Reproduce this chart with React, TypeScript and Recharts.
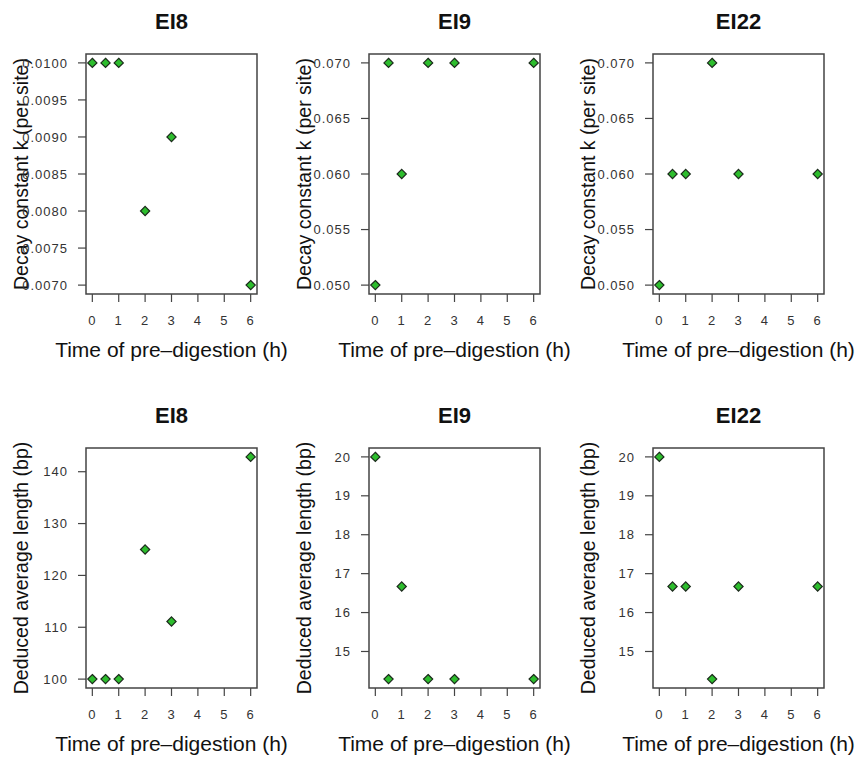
import React from 'react';
import { ScatterChart, Scatter, XAxis, YAxis, ReferenceArea } from 'recharts';

// ---- data ----
const timeHours = [0, 0.5, 1, 2, 3, 6];
const xTicks = [0, 1, 2, 3, 4, 5, 6];

const panelTitles = ['EI8', 'EI9', 'EI22'];

const decayEI8 = [0.01, 0.01, 0.01, 0.008, 0.009, 0.007];
const decayEI9 = [0.05, 0.07, 0.06, 0.07, 0.07, 0.07];
const decayEI22 = [0.05, 0.06, 0.06, 0.07, 0.06, 0.06];

const lengthEI8 = [100, 100, 100, 125, 111.11, 142.86];
const lengthEI9 = [20, 14.29, 16.67, 14.29, 14.29, 14.29];
const lengthEI22 = [20, 16.67, 16.67, 14.29, 16.67, 16.67];

const decayTicksEI8 = [0.007, 0.0075, 0.008, 0.0085, 0.009, 0.0095, 0.01];
const decayTicksOther = [0.05, 0.055, 0.06, 0.065, 0.07];
const lengthTicksEI8 = [100, 110, 120, 130, 140];
const lengthTicksOther = [15, 16, 17, 18, 19, 20];

const xLabelText = 'Time of pre\u2013digestion (h)';
const decayLabelText = 'Decay constant k (per site)';
const lengthLabelText = 'Deduced average length (bp)';

// ---- styling ----
const FONT = '"Liberation Sans", Arial, Helvetica, sans-serif';
const AXIS_COLOR = '#444';
const TICK_COLOR = '#333';
const POINT_FILL = '#2dbd2d';
const POINT_STROKE = '#1b2a1b';

function rDomain(vals: number[]): [number, number] {
  const min = Math.min(...vals);
  const max = Math.max(...vals);
  const pad = (max - min) * 0.04;
  return [min - pad, max + pad];
}

const Diamond = (props: any) => {
  const { cx, cy } = props;
  if (cx == null || cy == null) return null;
  const r = 4.6;
  return (
    <polygon
      points={`${cx},${cy - r} ${cx + r},${cy} ${cx},${cy + r} ${cx - r},${cy}`}
      fill={POINT_FILL}
      stroke={POINT_STROKE}
      strokeWidth={1.2}
    />
  );
};

const makeXLabel = (text: string) => (props: any) => {
  const vb = props.viewBox || {};
  const cx = vb.x + vb.width / 2;
  const y = vb.y + 63;
  return (
    <text x={cx} y={y} textAnchor="middle" fontSize={21} fontFamily={FONT} fill="#111">
      {text}
    </text>
  );
};

const makeYLabel = (text: string) => (props: any) => {
  const vb = props.viewBox || {};
  const cx = vb.x + vb.width - 65;
  const cy = vb.y + vb.height / 2;
  return (
    <text
      x={cx}
      y={cy}
      transform={`rotate(-90, ${cx}, ${cy})`}
      textAnchor="middle"
      dominantBaseline="central"
      fontSize={19.5}
      fontFamily={FONT}
      fill="#111"
    >
      {text}
    </text>
  );
};

type PanelProps = {
  left: number;
  top: number;
  height: number;
  title: string;
  ys: number[];
  yTicks: number[];
  fmt: (v: number) => string;
  yLabel: string;
};

const CHART_W = 289;
const M_TOP = 54;
const M_RIGHT = 32;
const Y_AXIS_W = 86;
const X_AXIS_H = 70;
const BOX_H = 240;

function Panel({ left, top, height, title, ys, yTicks, fmt, yLabel }: PanelProps) {
  const data = timeHours.map((t, i) => ({ t, v: ys[i] }));
  const xDom = rDomain(timeHours);
  const yDom = rDomain(ys);
  const boxCenter = Y_AXIS_W + (CHART_W - Y_AXIS_W - M_RIGHT) / 2;
  const tickStyle = { fill: TICK_COLOR, fontSize: 13, fontFamily: FONT, letterSpacing: 1 };
  return (
    <div style={{ position: 'absolute', left, top, width: CHART_W, height }}>
      <svg
        width={CHART_W}
        height={50}
        style={{ position: 'absolute', left: 0, top: 0, pointerEvents: 'none' }}
      >
        <text x={boxCenter} y={29} textAnchor="middle" fontSize={22} fontWeight="bold" fontFamily={FONT} fill="#111">
          {title}
        </text>
      </svg>
      <ScatterChart
        width={CHART_W}
        height={height}
        margin={{ top: M_TOP, right: M_RIGHT, bottom: height - M_TOP - BOX_H - X_AXIS_H, left: 0 }}
      >
        <XAxis
          type="number"
          dataKey="t"
          domain={xDom}
          ticks={xTicks}
          allowDataOverflow
          interval={0}
          height={X_AXIS_H}
          tickSize={8}
          tickMargin={14}
          axisLine={false}
          tickLine={{ stroke: AXIS_COLOR, strokeWidth: 1.2 }}
          tick={tickStyle}
          label={makeXLabel(xLabelText)}
        />
        <YAxis
          type="number"
          dataKey="v"
          domain={yDom}
          ticks={yTicks}
          allowDataOverflow
          interval={0}
          width={Y_AXIS_W}
          tickSize={8}
          tickMargin={10}
          axisLine={false}
          tickLine={{ stroke: AXIS_COLOR, strokeWidth: 1.2 }}
          tick={tickStyle}
          tickFormatter={fmt}
          label={makeYLabel(yLabel)}
        />
        <ReferenceArea
          x1={xDom[0]}
          x2={xDom[1]}
          y1={yDom[0]}
          y2={yDom[1]}
          fill="none"
          fillOpacity={0}
          stroke={AXIS_COLOR}
          strokeWidth={1.5}
          ifOverflow="visible"
        />
        <Scatter data={data} shape={Diamond} isAnimationActive={false} />
      </ScatterChart>
    </div>
  );
}

const f4 = (v: number) => v.toFixed(4);
const f3 = (v: number) => v.toFixed(3);
const f0 = (v: number) => v.toFixed(0);

const lefts = [0, 283, 567];

export default function App() {
  return (
    <div
      style={{
        position: 'absolute',
        left: 0,
        top: 0,
        width: 856,
        height: 758,
        background: '#fff',
        fontFamily: FONT,
        overflow: 'hidden',
      }}
    >
      <Panel left={lefts[0]} top={0} height={379} title={panelTitles[0]} ys={decayEI8} yTicks={decayTicksEI8} fmt={f4} yLabel={decayLabelText} />
      <Panel left={lefts[1]} top={0} height={379} title={panelTitles[1]} ys={decayEI9} yTicks={decayTicksOther} fmt={f3} yLabel={decayLabelText} />
      <Panel left={lefts[2]} top={0} height={379} title={panelTitles[2]} ys={decayEI22} yTicks={decayTicksOther} fmt={f3} yLabel={decayLabelText} />
      <Panel left={lefts[0]} top={394} height={364} title={panelTitles[0]} ys={lengthEI8} yTicks={lengthTicksEI8} fmt={f0} yLabel={lengthLabelText} />
      <Panel left={lefts[1]} top={394} height={364} title={panelTitles[1]} ys={lengthEI9} yTicks={lengthTicksOther} fmt={f0} yLabel={lengthLabelText} />
      <Panel left={lefts[2]} top={394} height={364} title={panelTitles[2]} ys={lengthEI22} yTicks={lengthTicksOther} fmt={f0} yLabel={lengthLabelText} />
    </div>
  );
}
